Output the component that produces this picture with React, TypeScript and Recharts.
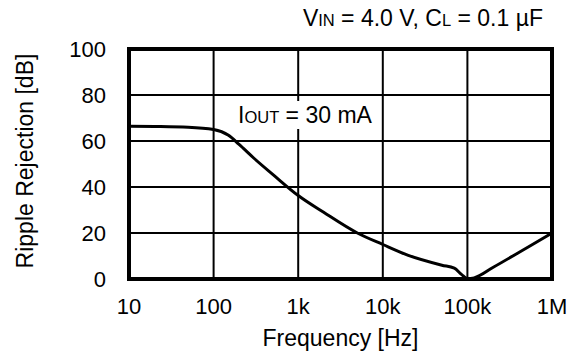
import React from 'react';
import { LineChart, Line, XAxis, YAxis, CartesianGrid, ReferenceArea } from 'recharts';

const freqs = [10, 20, 50, 100, 150, 200, 300, 500, 1000, 2000, 5000, 10000, 20000, 50000, 70000, 85000, 100000, 120000, 200000, 500000, 1000000];
const ripple = [66.4, 66.3, 66.0, 65.0, 62.5, 58.5, 52.5, 45.5, 36.3, 29.0, 20.0, 15.0, 10.3, 6.0, 4.7, 2.0, 0.2, 0.5, 5.0, 13.5, 20.0];
const xTicks = [10, 100, 1000, 10000, 100000, 1000000];
const xTickLabels = ['10', '100', '1k', '10k', '100k', '1M'];
const yTicks = [0, 20, 40, 60, 80, 100];

const data = freqs.map((f, i) => ({ f, db: ripple[i] }));

const font = '"Liberation Sans", Arial, sans-serif';
const tickStyle = { fill: '#000', fontSize: 22, fontFamily: font };

export default function App() {
  return (
    <div style={{ position: 'absolute', left: 0, top: 0, width: 579, height: 358, background: '#fff', fontFamily: font }}>
      <LineChart width={579} height={358} data={data} margin={{ top: 49, right: 27, bottom: 49, left: 0 }}>
        <CartesianGrid stroke="#000" strokeWidth={2} horizontalValues={yTicks} verticalValues={xTicks} />
        <XAxis
          dataKey="f"
          type="number"
          scale="log"
          domain={[10, 1000000]}
          ticks={xTicks}
          tickFormatter={(v) => xTickLabels[xTicks.indexOf(v)]}
          axisLine={false}
          tickLine={false}
          tick={tickStyle}
          tickMargin={13}
          height={30}
          allowDataOverflow
        />
        <YAxis
          type="number"
          domain={[0, 100]}
          ticks={yTicks}
          width={129}
          axisLine={false}
          tickLine={false}
          tick={tickStyle}
          tickMargin={17}
        />
        <ReferenceArea x1={10} x2={1000000} y1={0} y2={100} fill="none" stroke="#000" strokeWidth={4} ifOverflow="visible" />
        <Line type="monotone" dataKey="db" stroke="#000" strokeWidth={3} dot={false} isAnimationActive={false} />
      </LineChart>
      <div style={{ position: 'absolute', right: 36, top: 7, fontSize: 23, lineHeight: '23px', whiteSpace: 'nowrap' }}>
        V<span style={{ fontSize: 16.5 }}>IN</span> = 4.0 V, C<span style={{ fontSize: 16.5 }}>L</span> = 0.1 µF
      </div>
      <div style={{ position: 'absolute', left: 234, top: 101, height: 28, padding: '0 4px', background: '#fff', fontSize: 23, lineHeight: '28px', whiteSpace: 'nowrap' }}>
        I<span style={{ fontSize: 16.5 }}>OUT</span> = 30 mA
      </div>
      <div style={{ position: 'absolute', left: 0, top: 327, width: 681, textAlign: 'center', fontSize: 23, lineHeight: '23px' }}>
        Frequency [Hz]
      </div>
      <div style={{ position: 'absolute', left: 25, top: 161, transform: 'translate(-50%, -50%) rotate(-90deg)', fontSize: 23, lineHeight: '23px', whiteSpace: 'nowrap' }}>
        Ripple Rejection [dB]
      </div>
    </div>
  );
}
